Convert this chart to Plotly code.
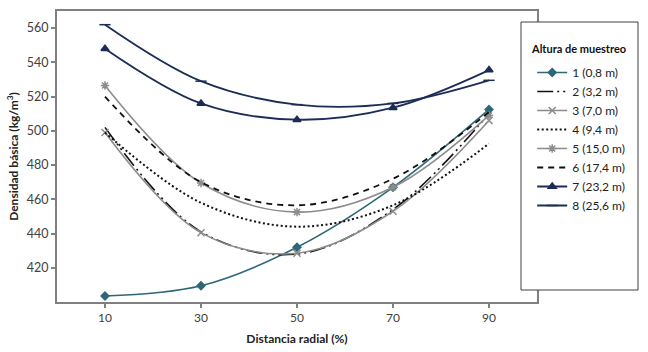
import plotly.graph_objects as go

distancia = ["10", "30", "50", "70", "90"]
alturas = ["1 (0,8 m)", "2 (3,2 m)", "3 (7,0 m)", "4 (9,4 m)",
           "5 (15,0 m)", "6 (17,4 m)", "7 (23,2 m)", "8 (25,6 m)"]
titulo_leyenda = "Altura de muestreo"
s1 = [403.5, 409.5, 432, 467, 512.5]
s2 = [502, 441, 428, 454, 510]
s3 = [499, 440.5, 428.5, 453, 506]
s4 = [499, 458, 444, 456.5, 492.5]
s5 = [526.5, 469.5, 452.5, 467, 509]
s6 = [520, 470, 456.5, 472, 511]
s7 = [548, 516, 506.5, 513.5, 535.5]
s8 = [562, 529, 515.3, 516, 529.5]
series = [s1, s2, s3, s4, s5, s6, s7, s8]

styles = [
    dict(color="#2E6878", dash="solid", symbol="diamond", msize=6, width=1.6),
    dict(color="#111111", dash="16px,4px,2px,4px,2px,4px", symbol=None, msize=0, width=1.6),
    dict(color="#8C8C8C", dash="solid", symbol="x-thin-open", msize=7, width=1.6),
    dict(color="#111111", dash="2px,2.5px", symbol=None, msize=0, width=2.0),
    dict(color="#8C8C8C", dash="solid", symbol="asterisk-open", msize=7, width=1.6),
    dict(color="#111111", dash="6px,5px", symbol=None, msize=0, width=1.8),
    dict(color="#1B2D55", dash="solid", symbol="triangle-up", msize=7, width=1.8),
    dict(color="#1B2D55", dash="solid", symbol="line-ew-open", msize=8, width=1.8),
]

fig = go.Figure()
for name, vals, st in zip(alturas, series, styles):
    mode = "lines+markers" if st["symbol"] else "lines"
    tr = go.Scatter(
        x=distancia, y=vals, name=name, mode=mode,
        line=dict(color=st["color"], dash=st["dash"], width=st["width"], shape="spline", smoothing=1.0),
    )
    if st["symbol"]:
        tr.marker = dict(symbol=st["symbol"], size=st["msize"], color=st["color"],
                         line=dict(color=st["color"], width=1.5))
    fig.add_trace(tr)

axis_line = dict(showline=True, linecolor="#808080", linewidth=2, mirror=True,
                 showgrid=False, zeroline=False, automargin=False)

fig.update_layout(
    width=648, height=352,
    margin=dict(l=57, r=111, t=11, b=50),
    paper_bgcolor="white", plot_bgcolor="white",
    font=dict(family="Lato, Open Sans, sans-serif", size=12, color="#404040"),
    showlegend=True,
    xaxis=dict(type="category", range=[-0.5, 4.5], ticks="outside", ticklen=4,
               tickcolor="#808080", tickwidth=1.5,
               title=dict(text="<b>Distancia radial (%)</b>", font=dict(size=12, color="#222222"), standoff=10),
               tickfont=dict(size=12, color="#404040"), **axis_line),
    yaxis=dict(range=[400, 570], tickvals=[420, 440, 460, 480, 500, 520, 540, 560],
               ticks="outside", ticklen=4, tickcolor="#808080", tickwidth=1.5,
               ticklabelstandoff=0,
               title=dict(text="<b>Densidad básica (kg/m<sup>3</sup>)</b>", font=dict(size=12, color="#222222"), standoff=6),
               tickfont=dict(size=12.5, color="#404040"), **axis_line),
    legend=dict(
        x=0.99, xanchor="left", y=(302 - 58) / 291, yanchor="top",
        bgcolor="rgba(0,0,0,0)", borderwidth=0,
        font=dict(size=12, color="#222222"),
        tracegroupgap=0,
    ),
    shapes=[dict(type="rect", xref="paper", yref="paper",
                 x0=(521 - 57) / 480, x1=(638 - 57) / 480,
                 y0=(302 - 290) / 291, y1=(302 - 22) / 291,
                 line=dict(color="#404040", width=1), fillcolor="white", layer="above")],
    annotations=[dict(text="<b>" + titulo_leyenda + "</b>", xref="paper", yref="paper",
                      x=(529 - 57) / 480, xanchor="left", y=(302 - 48) / 291, yanchor="middle",
                      showarrow=False, font=dict(size=11, color="#111111"))],
)

fig.write_html("out.html", config={"displayModeBar": False},
               post_script="document.body.style.margin='0';")
